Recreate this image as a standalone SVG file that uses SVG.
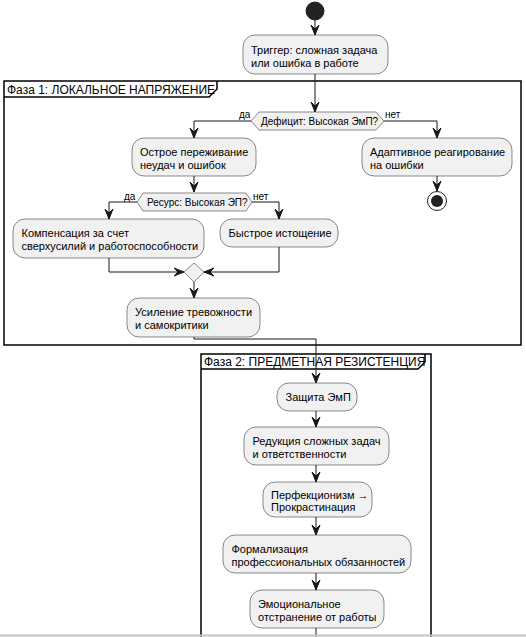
<svg xmlns="http://www.w3.org/2000/svg" width="526" height="637" viewBox="0 0 526 637">
<style>
.box{fill:#F1F1F1;stroke:#181818;stroke-width:0.5}
.dia{fill:#F1F1F1;stroke:#181818;stroke-width:0.5}
.t{font-family:"Liberation Sans",Arial,sans-serif;font-size:11px;fill:#000}
.dt{font-family:"Liberation Sans",Arial,sans-serif;font-size:10px;fill:#000}
.ft{font-family:"Liberation Sans",Arial,sans-serif;font-size:12px;fill:#000}
.frame{fill:none;stroke:#000;stroke-width:1.5}
.ln{fill:none;stroke:#181818;stroke-width:1}
.ah{fill:#181818;stroke:#181818;stroke-width:1}
</style>
<defs>
<polygon id="ad" points="0,0 -4,-10 0,-6 4,-10"/>
<polygon id="ar" points="0,0 -10,-4 -6,0 -10,4"/>
<polygon id="al" points="0,0 10,-4 6,0 10,4"/>
</defs>

<g id="phase1">
<rect class="frame" x="4" y="81" width="517" height="264"/>
<polyline class="frame" points="4,97 209,97 217,89 217,81"/>
<text class="ft" x="7" y="93.5">Фаза 1: ЛОКАЛЬНОЕ НАПРЯЖЕНИЕ</text>
</g>
<g id="phase2">
<path class="frame" d="M201,645 L201,354 L431,354 L431,645"/>
<polyline class="frame" points="201,369 418,369 425,362 425,354"/>
<text class="ft" x="204" y="366">Фаза 2: ПРЕДМЕТНАЯ РЕЗИСТЕНЦИЯ</text>
</g>

<g id="connectors">
<line class="ln" x1="315" y1="20" x2="315" y2="35"/><use href="#ad" class="ah" x="315" y="35"/>
<line class="ln" x1="315" y1="74" x2="315" y2="112"/><use href="#ad" class="ah" x="315" y="112"/>
<polyline class="ln" points="251,121 194,121 194,138"/><use href="#ad" class="ah" x="194" y="138"/>
<polyline class="ln" points="384,121 437,121 437,138"/><use href="#ad" class="ah" x="437" y="138"/>
<line class="ln" x1="437" y1="176" x2="437" y2="191"/><use href="#ad" class="ah" x="437" y="191"/>
<line class="ln" x1="194" y1="176" x2="194" y2="192"/><use href="#ad" class="ah" x="194" y="192"/>
<polyline class="ln" points="137,202 109,202 109,219"/><use href="#ad" class="ah" x="109" y="219"/>
<polyline class="ln" points="252,202 279,202 279,219"/><use href="#ad" class="ah" x="279" y="219"/>
<polyline class="ln" points="109,258 109,272 184,272"/><use href="#ar" class="ah" x="184" y="272"/>
<polyline class="ln" points="279,247 279,272 204,272"/><use href="#al" class="ah" x="204" y="272"/>
<line class="ln" x1="194" y1="282" x2="194" y2="298"/><use href="#ad" class="ah" x="194" y="298"/>
<polyline class="ln" points="194,337 194,339 316,339 316,383"/><use href="#ad" class="ah" x="316" y="383"/>
<line class="ln" x1="316" y1="411" x2="316" y2="427"/><use href="#ad" class="ah" x="316" y="427"/>
<line class="ln" x1="316" y1="465" x2="316" y2="482"/><use href="#ad" class="ah" x="316" y="482"/>
<line class="ln" x1="316" y1="517" x2="316" y2="535"/><use href="#ad" class="ah" x="316" y="535"/>
<line class="ln" x1="316" y1="573" x2="316" y2="590"/><use href="#ad" class="ah" x="316" y="590"/>
<line class="ln" x1="316" y1="628" x2="316" y2="640"/>
</g>

<g id="start"><circle cx="315" cy="11" r="9" fill="#222" stroke="#222"/></g>

<g id="trigger">
<rect class="box" x="243" y="35" width="145" height="39" rx="12"/>
<text class="t" x="251" y="54">Триггер: сложная задача</text>
<text class="t" x="251" y="66.5">или ошибка в работе</text>
</g>

<g id="deficit">
<polygon class="dia" points="251,121 259,112 376,112 384,121 376,130 259,130"/>
<text class="dt" x="261" y="124.5">Дефицит: Высокая ЭмП?</text>
<text class="dt" x="239" y="118">да</text>
<text class="dt" x="385" y="118">нет</text>
</g>

<g id="acute">
<rect class="box" x="132" y="138" width="124" height="38" rx="12"/>
<text class="t" x="140" y="156">Острое переживание</text>
<text class="t" x="140" y="168.5">неудач и ошибок</text>
</g>

<g id="adaptive">
<rect class="box" x="362" y="138" width="150" height="38" rx="12"/>
<text class="t" x="370" y="156">Адаптивное реагирование</text>
<text class="t" x="370" y="168.5">на ошибки</text>
</g>

<g id="end">
<circle cx="437" cy="201" r="9.5" fill="#fff" stroke="#222" stroke-width="1"/>
<circle cx="437" cy="201" r="6" fill="#222"/>
</g>

<g id="resource">
<polygon class="dia" points="137,202 143,193 246,193 252,202 246,211 143,211"/>
<text class="dt" x="147" y="205.5">Ресурс: Высокая ЭП?</text>
<text class="dt" x="124" y="200">да</text>
<text class="dt" x="253" y="200">нет</text>
</g>

<g id="compensation">
<rect class="box" x="13" y="219" width="191" height="39" rx="12"/>
<text class="t" x="21.5" y="237">Компенсация за счет</text>
<text class="t" x="21.5" y="249.5">сверхусилий и работоспособности</text>
</g>

<g id="exhaustion">
<rect class="box" x="220" y="219" width="118" height="28" rx="12"/>
<text class="t" x="228.5" y="237">Быстрое истощение</text>
</g>

<g id="merge">
<polygon points="194,263 204,272 194,282 184,272" fill="#F1F1F1" stroke="#888" stroke-width="1"/>
</g>

<g id="anxiety">
<rect class="box" x="127" y="298" width="133" height="39" rx="12"/>
<text class="t" x="135" y="316">Усиление тревожности</text>
<text class="t" x="135" y="328.5">и самокритики</text>
</g>

<g id="protect">
<rect class="box" x="277" y="383" width="80" height="28" rx="12"/>
<text class="t" x="285.5" y="401">Защита ЭмП</text>
</g>

<g id="reduction">
<rect class="box" x="244" y="427" width="145" height="38" rx="12"/>
<text class="t" x="252.5" y="445">Редукция сложных задач</text>
<text class="t" x="252.5" y="457.5">и ответственности</text>
</g>

<g id="perfection">
<rect class="box" x="263" y="482" width="109" height="35" rx="12"/>
<text class="t" x="271" y="498.5">Перфекционизм →</text>
<text class="t" x="271" y="511">Прокрастинация</text>
</g>

<g id="formal">
<rect class="box" x="223" y="535" width="188" height="38" rx="12"/>
<text class="t" x="231.5" y="553">Формализация</text>
<text class="t" x="231.5" y="565.5">профессиональных обязанностей</text>
</g>

<g id="detach">
<rect class="box" x="250" y="590" width="134" height="38" rx="12"/>
<text class="t" x="258" y="608">Эмоциональное</text>
<text class="t" x="258" y="620.5">отстранение от работы</text>
</g>

<line x1="0" y1="635.5" x2="526" y2="635.5" stroke="#c4c4c4" stroke-width="2"/>
</svg>
